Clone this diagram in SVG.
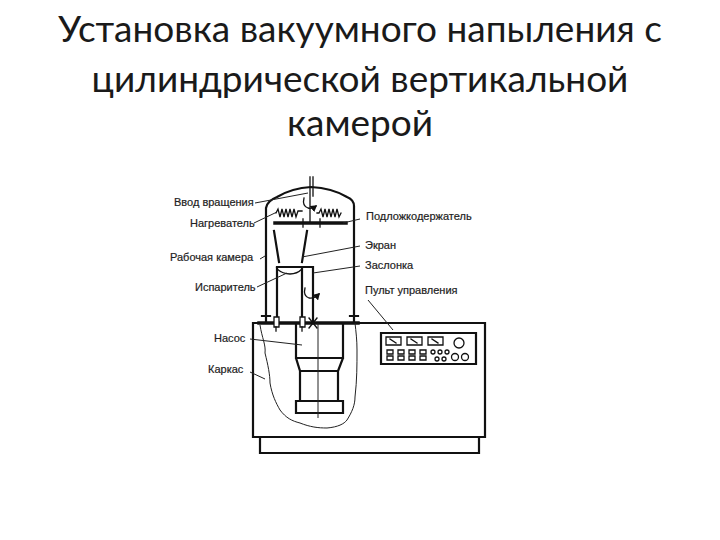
<svg xmlns="http://www.w3.org/2000/svg" width="720" height="540" viewBox="0 0 720 540">
<defs>
<marker id="ah" markerWidth="6" markerHeight="6" refX="4" refY="3" orient="auto"><path d="M0 0L5 3L0 6Z" fill="#111"/></marker>
</defs>
<style>
.t{font-family:"Lato","Liberation Sans",sans-serif;font-size:37px;fill:#1a1a1a;text-anchor:middle}
.l{font-family:"Liberation Sans",Arial,sans-serif;font-size:11px;fill:#222;stroke:#222;stroke-width:.2}
.k{fill:none;stroke:#111;stroke-linecap:square}
.w1{stroke-width:1.3}.w2{stroke-width:2.2}.w3{stroke-width:3.5}.th{stroke-width:1;stroke:#222;fill:none}
.b{fill:#fff;stroke:#111;stroke-width:1.3}
</style>
<rect width="720" height="540" fill="#fff"/>
<g id="title">
<text class="t" x="360" y="42">Установка вакуумного напыления с</text>
<text class="t" x="360" y="92">цилиндрической вертикальной</text>
<text class="t" x="360" y="136">камерой</text>
</g>
<g id="frame">
<path class="k w2" d="M253 323H485V437H253Z"/>
<path class="k w2" d="M260 437V453H479V437"/>
</g>
<g id="chamber">
<path class="k w2" d="M266 316V208Q267 201 277 197Q292 188 311 187Q332 188 347 197Q354 200 354 206V315"/>
<path class="k w3" d="M259 323H358"/>
<path class="k w1" d="M310 177V223M313 177V196"/>
<path class="k w2" d="M262 316h8M266 316v6M350 316h8M354 316v6"/>
</g>
<g id="heater">
<path class="k w1" d="M276 213l2 -4l2 8l2 -8l2 8l2 -8l2 8l2 -8l2 8l2 -8l2 8l2 -6h4"/>
<path class="k w1" d="M317 213h2l2 -4l2 8l2 -8l2 8l2 -8l2 8l2 -8l2 8l2 -8l2 8l2 -4"/>
<path class="k w1" d="M304 198q-2 8 4 10q4 1 8 -2" marker-end="url(#ah)"/>
</g>
<g id="substrate-holder">
<path class="k w3" d="M275 223H346"/>
<path class="k w1" d="M303 219v8M320 219v8"/>
</g>
<g id="screen">
<path class="k w2" d="M274 231L279 262M307 231L302 262"/>
</g>
<g id="evaporator">
<path class="k w2" d="M277 267H313V323"/>
<path class="k w2" d="M277 268V318M302 268V318"/>
<path class="k w1" d="M277 269Q283 274 290 274Q297 274 302 269"/>
<path class="b" d="M274 317h5v10h-5zM300 317h5v10h-5z"/>
<path class="k w1" d="M276 327v4M302 327v4M309 318l8 10M317 318l-8 10"/>
<path class="k w1" d="M305 288q-2 8 4 10q5 1 10 -4" marker-end="url(#ah)"/>
</g>
<g id="pump">
<path class="k w2" d="M296 324V358L300 371V401M343 324V358L338 371V401M296 358H343M300 371H338"/>
<path class="k w2" d="M296 401H343V413H296Z"/>
<path class="th" d="M318 323V418"/>
</g>
<g id="outline">
<path class="th" d="M260 325C262 338 266 345 265 353C268 365 270 375 270 383C272 395 276 403 280 410C286 418 292 421 300 423C310 427 318 428 327 428C338 427 344 424 347 420C352 412 355 405 355 397C357 380 357 365 357 350C357 340 356 332 355 323"/>
</g>
<g id="panel">
<path class="k w2" d="M381 333H476V364H381Z"/>
<path class="b" d="M386 337h15v8h-15zM407 337h15v8h-15zM428 337h15v8h-15z"/>
<path class="k w1" d="M390 339l6 4M411 339l6 4M432 339l6 4"/>
<circle class="b" cx="459" cy="343" r="5"/>
<path class="b" d="M387 350h6v4h-6zM398 350h6v4h-6zM409 350h6v4h-6zM420 350h6v4h-6zM387 356h6v4h-6zM398 356h6v4h-6zM409 356h6v4h-6zM420 356h6v4h-6z"/>
<circle class="b" cx="433" cy="352" r="2"/><circle class="b" cx="440" cy="352" r="2"/><circle class="b" cx="447" cy="352" r="2"/>
<circle class="b" cx="437" cy="359" r="2"/><circle class="b" cx="444" cy="359" r="2"/>
<circle class="b" cx="455" cy="357" r="3.5"/><circle class="b" cx="465" cy="357" r="3.5"/>
</g>
<g id="connectors">
<path class="th" d="M255 203L308 193M254 223L277 212M260 259L265 256M257 287L287 273M250 339L302 345M250 372L265 379M360 219L343 223M360 246L302 257M360 266L313 273M368 300L393 330"/>
</g>
<g id="labels">
<text class="l" x="174" y="206">Ввод вращения</text>
<text class="l" x="190" y="227">Нагреватель</text>
<text class="l" x="170" y="261">Рабочая камера</text>
<text class="l" x="195" y="291">Испаритель</text>
<text class="l" x="214" y="342">Насос</text>
<text class="l" x="208" y="373">Каркас</text>
<text class="l" x="366" y="220">Подложкодержатель</text>
<text class="l" x="365" y="249">Экран</text>
<text class="l" x="365" y="269">Заслонка</text>
<text class="l" x="365" y="294">Пульт управления</text>
</g>
</svg>
